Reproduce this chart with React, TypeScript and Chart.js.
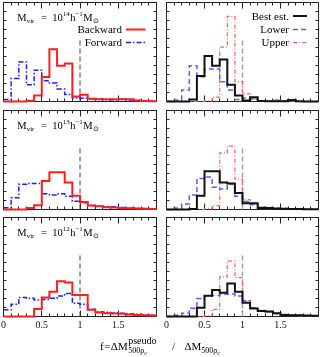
import React, { useEffect, useRef } from "react";
import { Chart, registerables } from "chart.js";

Chart.register(...registerables);

const FONT = "'Liberation Serif', 'Times New Roman', serif";
Chart.defaults.font.family = FONT;

// ---------- data ----------
const BIN_EDGES = [0, 0.1, 0.2, 0.3, 0.4, 0.5, 0.6, 0.7, 0.8, 0.9, 1.0, 1.1, 1.2, 1.3, 1.4, 1.5, 1.6, 1.7, 1.8, 1.9, 2.0];
const X_TICK_VALUES = [0, 0.5, 1, 1.5];
const X_TICK_LABELS = ["0", "0.5", "1", "1.5"];
const X_MINOR = [0.1, 0.2, 0.3, 0.4, 0.5, 0.6, 0.7, 0.8, 0.9, 1.0, 1.1, 1.2, 1.3, 1.4, 1.5, 1.6, 1.7, 1.8, 1.9];
const X_MAJOR = [0.5, 1.0, 1.5];
const Y_MINOR = [5, 10, 15, 20, 25, 30, 35, 40, 45, 50];
const Y_MAX = 55;
const REF_X = 1;
const REF_TOP = 34;

const MASS_EXPONENTS = ["14", "13", "12"];

// M = 1e14
const backward14 = [0, 0, 0, 0.4, 3.3, 13.6, 29.0, 19.8, 21.1, 2.8, 3.7, 1.5, 1.3, 1.3, 1.3, 1.3, 1.3, 0.5, 0.3, 0.2];
const forward14 = [1.1, 12.8, 22.0, 9.3, 17.4, 11.5, 10.3, 7.0, 3.9, 2.0, 1.8, 1.5, 1.5, 1.0, 1.0, 1.3, 0.9, 0.5, 0.4, 0.3];
const best14 = [0, 0, 0, 1.1, 14.1, 25.3, 19.8, 23.3, 9.3, 3.3, 0.5, 2.4, 0.3, 0.2, 0.2, 0.2, 0.9, 0.2, 0, 0];
const lower14 = [0.2, 0.9, 6.4, 19.8, 13.8, 18.0, 18.0, 11.0, 6.4, 1.1, 2.0, 1.3, 0.2, 0.2, 0.5, 0.2, 0.2, 0, 0, 0];
const upper14 = [0, 0, 0, 0, 0, 0.3, 2.4, 30.2, 47.3, 11.0, 4.2, 1.5, 0.3, 0.3, 0.9, 0.3, 0.2, 0, 0, 0];

// M = 1e13
const backward13 = [0, 0, 0, 0.9, 2.4, 15.8, 20.7, 20.7, 15.0, 7.7, 4.2, 2.2, 1.8, 1.3, 1.1, 0.9, 0.7, 0.5, 0.4, 0.3];
const forward13 = [1.0, 6.5, 14.0, 14.5, 14.5, 8.8, 8.1, 8.8, 7.3, 4.6, 3.7, 2.2, 1.8, 1.5, 1.5, 1.1, 0.9, 0.7, 0.5, 0.4];
const best13 = [0, 0, 0, 0.3, 7.7, 21.3, 21.3, 15.0, 14.5, 9.2, 3.5, 3.5, 0.9, 0.9, 0.5, 0.4, 0.3, 0.3, 0.2, 0.2];
const lower13 = [0, 0.9, 3.1, 8.1, 17.2, 18.0, 12.3, 11.4, 14.1, 7.3, 4.4, 2.6, 1.3, 1.1, 0.7, 0.5, 0.4, 0.3, 0.2, 0.2];
const upper13 = [0, 0, 0, 0, 0, 0.3, 2.2, 31.5, 35.2, 16.9, 5.5, 3.1, 1.3, 0.9, 0.5, 0.4, 0.3, 0.2, 0.2, 0.1];

// M = 1e12
const backward12 = [0, 0, 0, 0, 4.2, 10.6, 13.8, 19.6, 18.9, 11.9, 11.9, 3.7, 2.2, 1.8, 1.6, 1.5, 1.1, 0.9, 0.7, 0.5];
const forward12 = [3.7, 6.8, 10.6, 10.1, 9.2, 9.5, 10.1, 11.4, 12.8, 7.3, 6.8, 4.0, 2.7, 2.4, 2.0, 1.8, 1.5, 1.3, 0.9, 0.7];
const best12 = [0, 0, 0, 0, 4.9, 11.5, 14.7, 13.2, 18.3, 13.8, 7.7, 4.4, 3.1, 2.8, 1.8, 0.9, 0.7, 0.7, 0.5, 0.4];
const lower12 = [0, 0.7, 1.8, 4.6, 10.0, 11.4, 11.7, 12.3, 12.5, 11.4, 8.8, 4.9, 3.3, 2.8, 1.8, 1.1, 0.7, 0.5, 0.4, 0.3];
const upper12 = [0, 0, 0, 0, 0, 0.4, 4.0, 22.0, 30.8, 21.6, 8.8, 4.6, 3.1, 2.4, 1.5, 0.9, 0.5, 0.4, 0.3, 0.2];

const BACKWARD = [backward14, backward13, backward12];
const FORWARD = [forward14, forward13, forward12];
const BEST = [best14, best13, best12];
const LOWER = [lower14, lower13, lower12];
const UPPER = [upper14, upper13, upper12];

// ---------- styles / layout ----------
const STYLE: Record<string, { label: string; color: string; width: number; dash: number[] }> = {
  backward: { label: "Backward", color: "#ff1f1f", width: 2, dash: [] },
  forward: { label: "Forward", color: "#2020ff", width: 1.5, dash: [5, 2, 1.5, 2] },
  best: { label: "Best est.", color: "#111111", width: 2, dash: [] },
  lower: { label: "Lower", color: "#5c5cff", width: 1.5, dash: [5, 3] },
  upper: { label: "Upper", color: "#ff5e5e", width: 1.2, dash: [4, 2, 1, 2] },
};

const PAGE_W = 329;
const PAGE_H = 357;
const OFF = 20;
const CW = PAGE_W + 2 * OFF;
const CH = PAGE_H + 2 * OFF;
const Y_W = 10;
const X_H = 20;
const COLS = [
  { left: 3.5, right: 156.5 },
  { left: 166.5, right: 318.5 },
];
const ROWS = [
  { top: 2.5, bottom: 101.5 },
  { top: 110.5, bottom: 209.5 },
  { top: 217.5, bottom: 316.5 },
];

function stepData(vals: number[]) {
  const pts = vals.map((v, i) => ({ x: BIN_EDGES[i], y: v }));
  pts.push({ x: BIN_EDGES[vals.length], y: vals[vals.length - 1] });
  return pts;
}

type Run = { t: string; size: number; dy?: number; gap?: number };
function drawRuns(ctx: CanvasRenderingContext2D, x: number, base: number, runs: Run[]) {
  ctx.textAlign = "left";
  ctx.textBaseline = "alphabetic";
  for (const r of runs) {
    x += r.gap || 0;
    ctx.font = `${r.size}px ${FONT}`;
    ctx.fillText(r.t, x, base + (r.dy || 0));
    x += ctx.measureText(r.t).width;
  }
  return x;
}

type PanelCfg = { row: number; col: number };

function makePlugin(p: PanelCfg) {
  const isBottom = p.row === 2;
  return {
    id: "deco",
    beforeDatasetsDraw(chart: any) {
      const { ctx, chartArea: a, scales } = chart;
      const xs = scales.x;
      const ys = scales.y;
      const snap = (v: number) => Math.round(v - 0.5) + 0.5;
      ctx.save();
      ctx.strokeStyle = "#222";
      ctx.lineWidth = 1;
      ctx.setLineDash([]);
      ctx.strokeRect(a.left, a.top, a.right - a.left, a.bottom - a.top);
      ctx.beginPath();
      for (const v of X_MINOR) {
        const px = snap(xs.getPixelForValue(v));
        const len = X_MAJOR.some((m) => Math.abs(m - v) < 1e-6) ? 6 : 3;
        ctx.moveTo(px, a.bottom);
        ctx.lineTo(px, a.bottom - len);
        ctx.moveTo(px, a.top);
        ctx.lineTo(px, a.top + len);
      }
      for (const v of Y_MINOR) {
        const py = snap(ys.getPixelForValue(v));
        ctx.moveTo(a.left, py);
        ctx.lineTo(a.left + 3, py);
        ctx.moveTo(a.right, py);
        ctx.lineTo(a.right - 3, py);
      }
      ctx.stroke();
      ctx.restore();
    },
    afterDatasetsDraw(chart: any) {
      const { ctx } = chart;
      ctx.save();
      ctx.translate(OFF, OFF);
      ctx.fillStyle = "#000";
      // legends
      if (p.row === 0) {
        const items =
          p.col === 0
            ? [
                { s: STYLE.backward, base: 33.3, ly: 29.5 },
                { s: STYLE.forward, base: 46, ly: 42.5 },
              ]
            : [
                { s: STYLE.best, base: 20, ly: 16 },
                { s: STYLE.lower, base: 33.3, ly: 29.5 },
                { s: STYLE.upper, base: 46, ly: 42.5 },
              ];
        const textRight = p.col === 0 ? 122 : 289;
        const lx1 = p.col === 0 ? 126 : 293;
        const lx2 = p.col === 0 ? 145.5 : 307;
        for (const it of items) {
          ctx.font = `11px ${FONT}`;
          ctx.textAlign = "right";
          ctx.textBaseline = "alphabetic";
          ctx.fillText(it.s.label, textRight, it.base);
          ctx.beginPath();
          ctx.strokeStyle = it.s.color;
          ctx.lineWidth = it.s.width;
          ctx.setLineDash(it.s.dash);
          ctx.moveTo(lx1, it.ly);
          ctx.lineTo(lx2, it.ly);
          ctx.stroke();
        }
        ctx.setLineDash([]);
      }
      // mass labels
      if (p.col === 0) {
        const base = ROWS[p.row].top + 18;
        drawRuns(ctx, 17.3, base, [
          { t: "M", size: 10.5 },
          { t: "vir", size: 7, dy: 2.5 },
          { t: "=", size: 10.5, gap: 6.5 },
          { t: "10", size: 10.5, gap: 5.5 },
          { t: MASS_EXPONENTS[p.row], size: 7, dy: -4.5 },
          { t: "h", size: 10.5, gap: 0.3 },
          { t: "\u22121", size: 7, dy: -4.5 },
          { t: "M", size: 10.5, gap: 0.5 },
          { t: "\u2299", size: 7, dy: 2.5 },
        ]);
      }
      // x-axis title
      if (isBottom && p.col === 0) {
        const base = 349.5;
        const x1 = drawRuns(ctx, 100, base, [
          { t: "f", size: 11 },
          { t: "=", size: 11, gap: 0.5 },
          { t: "\u0394", size: 11, gap: 0.5 },
          { t: "M", size: 11 },
        ]);
        drawRuns(ctx, x1 + 0.5, base, [{ t: "pseudo", size: 10, dy: -5.5 }]);
        drawRuns(ctx, x1 + 0.5, base, [
          { t: "500\u03c1", size: 8, dy: 3.5 },
          { t: "c", size: 6, dy: 5 },
        ]);
        drawRuns(ctx, 172, base, [{ t: "/", size: 11 }]);
        drawRuns(ctx, 184.5, base, [
          { t: "\u0394", size: 11 },
          { t: "M", size: 11 },
          { t: "500\u03c1", size: 8, dy: 3.5 },
          { t: "c", size: 6, dy: 5 },
        ]);
      }
      ctx.restore();
    },
  };
}

function buildDatasets(p: PanelCfg) {
  const sets: any[] = [];
  const add = (key: string, vals: number[]) => {
    const s = STYLE[key];
    sets.push({
      label: s.label,
      data: stepData(vals),
      stepped: true,
      borderColor: s.color,
      borderWidth: s.width,
      borderDash: s.dash,
      pointRadius: 0,
      fill: false,
      clip: false,
    });
  };
  if (p.col === 0) {
    add("backward", BACKWARD[p.row]);
    add("forward", FORWARD[p.row]);
  } else {
    add("best", BEST[p.row]);
    add("lower", LOWER[p.row]);
    add("upper", UPPER[p.row]);
  }
  sets.push({
    label: "f=1",
    data: [
      { x: REF_X, y: 0 },
      { x: REF_X, y: REF_TOP },
    ],
    borderColor: p.col === 0 ? "#444" : "#a0a0a0",
    borderWidth: p.col === 0 ? 1 : 1.5,
    borderDash: [5, 3],
    pointRadius: 0,
    fill: false,
    clip: false,
  });
  return sets;
}

function Panel({ p }: { p: PanelCfg }) {
  const ref = useRef<HTMLCanvasElement>(null);
  useEffect(() => {
    const isBottom = p.row === 2;
    const col = COLS[p.col];
    const row = ROWS[p.row];
    const xh = isBottom ? X_H : 0;
    const chart = new Chart(ref.current as HTMLCanvasElement, {
      type: "line",
      data: { datasets: buildDatasets(p) },
      options: {
        animation: false,
        responsive: false,
        devicePixelRatio: 1,
        events: [],
        layout: {
          autoPadding: false,
          padding: {
            left: col.left + OFF - Y_W,
            right: CW - (col.right + OFF),
            top: row.top + OFF,
            bottom: CH - (row.bottom + OFF) - xh,
          },
        },
        plugins: { legend: { display: false }, tooltip: { enabled: false } },
        scales: {
          x: {
            type: "linear",
            min: 0,
            max: 2,
            grid: { display: false, drawTicks: false },
            border: { display: false },
            ticks: {
              display: isBottom,
              padding: 3,
              color: "#111",
              font: { family: FONT, size: 10 },
              callback: (v: any) => {
                const i = X_TICK_VALUES.findIndex((t) => Math.abs(t - Number(v)) < 1e-6);
                return i >= 0 ? X_TICK_LABELS[i] : "";
              },
            },
            afterBuildTicks: (s: any) => {
              s.ticks = X_TICK_VALUES.map((v) => ({ value: v }));
            },
            afterFit: (s: any) => {
              s.height = xh;
            },
          },
          y: {
            type: "linear",
            min: 0,
            max: Y_MAX,
            grid: { display: false, drawTicks: false },
            border: { display: false },
            ticks: { display: false },
            afterFit: (s: any) => {
              s.width = Y_W;
            },
          },
        },
      } as any,
      plugins: [makePlugin(p) as any],
    });
    return () => chart.destroy();
  }, []);
  return (
    <canvas
      ref={ref}
      width={CW}
      height={CH}
      style={{ position: "absolute", left: -OFF, top: -OFF, width: CW, height: CH }}
    />
  );
}

const PANELS: PanelCfg[] = [
  { row: 0, col: 0 },
  { row: 0, col: 1 },
  { row: 1, col: 0 },
  { row: 1, col: 1 },
  { row: 2, col: 0 },
  { row: 2, col: 1 },
];

export default function App() {
  return (
    <div
      style={{
        position: "fixed",
        left: 0,
        top: 0,
        width: PAGE_W,
        height: PAGE_H,
        overflow: "hidden",
        background: "#fff",
      }}
    >
      {PANELS.map((p) => (
        <Panel key={`${p.row}-${p.col}`} p={p} />
      ))}
    </div>
  );
}
